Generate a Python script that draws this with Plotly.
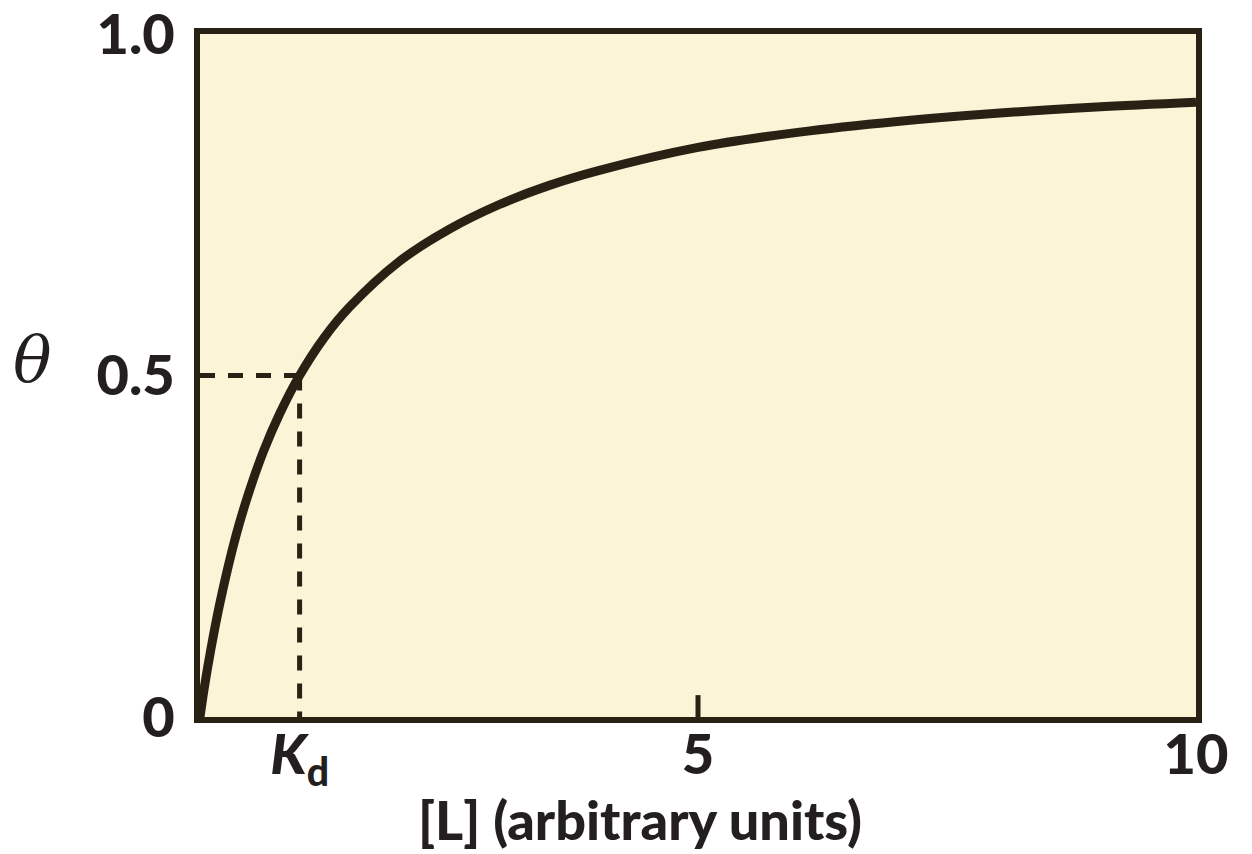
import plotly.graph_objects as go

# Data
ligand = [0, 0.04, 0.11, 0.2, 0.36, 0.5, 0.64, 0.8, 1.0, 1.25, 1.5, 2.0, 2.5, 3.0, 3.5,
          4.0, 5.0, 6.0, 7.0, 8.0, 9.0, 10.0]
theta = [0, 0.04, 0.10, 0.167, 0.265, 0.333, 0.39, 0.444, 0.50, 0.556, 0.60, 0.667, 0.714,
         0.75, 0.778, 0.80, 0.834, 0.856, 0.872, 0.884, 0.893, 0.90]
kd = 1.0
half = 0.5
x_tickvals = [1, 5, 10]
x_ticktext = ["<i>K</i><sub>d</sub>", "5", "10"]
y_tickvals = [0, 0.5, 1.0]
y_ticktext = ["0", "0.5", "1.0"]

ink = "#2a2115"
text_col = "#231f20"
bg = "#fcf4d6"

fig = go.Figure()
fig.add_trace(go.Scatter(x=[0, kd], y=[half, half], mode="lines",
                         line=dict(color=ink, width=5, dash="15px,13px"), hoverinfo="skip"))
fig.add_trace(go.Scatter(x=[kd, kd], y=[half, 0], mode="lines",
                         line=dict(color=ink, width=5, dash="15px,13px"), hoverinfo="skip"))
fig.add_trace(go.Scatter(x=ligand, y=theta, mode="lines",
                         line=dict(color=ink, width=9, shape="spline", smoothing=1.0),
                         hoverinfo="skip"))

# small inside tick at 5
fig.add_shape(type="line", x0=5, x1=5, y0=0, y1=0.032, xref="x", yref="y",
              line=dict(color=ink, width=5))

font_tick = dict(family="Lato", size=56, color=text_col, weight=900)

L_MARGIN, R_MARGIN, T_MARGIN, B_MARGIN = 200, 56, 34, 137
W, H = 1252, 854
pw = W - L_MARGIN - R_MARGIN
ph = H - T_MARGIN - B_MARGIN

fig.update_layout(
    width=W, height=H,
    margin=dict(l=L_MARGIN, r=R_MARGIN, t=T_MARGIN, b=B_MARGIN, autoexpand=False),
    paper_bgcolor="white", plot_bgcolor=bg,
    showlegend=False,
    xaxis=dict(range=[0, 10], tickvals=x_tickvals, ticktext=x_ticktext,
               showgrid=False, zeroline=False, showline=True, mirror=True,
               linecolor=ink, linewidth=6, ticks="", tickfont=font_tick,
               ticklabelstandoff=-16, ticklabeloverflow="allow", automargin=False),
    yaxis=dict(range=[0, 1], tickvals=y_tickvals, ticktext=y_ticktext,
               showgrid=False, zeroline=False, showline=True, mirror=True,
               linecolor=ink, linewidth=6, ticks="", tickfont=font_tick,
               ticklabelstandoff=8, ticklabeloverflow="allow", automargin=False),
)

fig.add_annotation(text="[L] (arbitrary units)",
                   x=(640 - L_MARGIN) / pw, y=(H - B_MARGIN - 819) / ph,
                   xref="paper", yref="paper", xanchor="center", yanchor="middle",
                   showarrow=False,
                   font=dict(family="Lato", size=54, color=text_col, weight=900))
fig.add_annotation(text="<i>θ</i>",
                   x=(32 - L_MARGIN) / pw, y=(H - B_MARGIN - 359) / ph,
                   xref="paper", yref="paper", xanchor="center", yanchor="middle",
                   showarrow=False,
                   font=dict(family="DejaVu Serif", size=64, color=text_col))

fig.write_html("out.html")
